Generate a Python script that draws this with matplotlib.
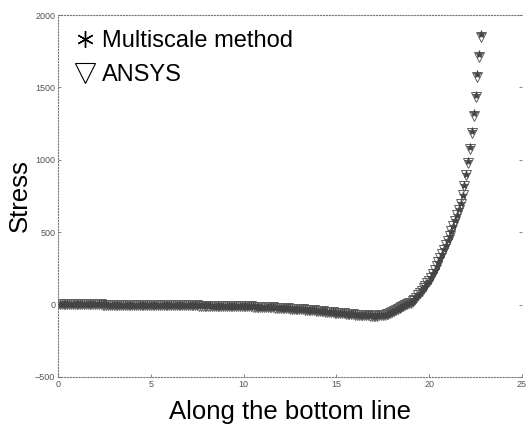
import numpy as np
import matplotlib
matplotlib.use("Agg")
import matplotlib.pyplot as plt
from matplotlib.lines import Line2D

plt.rcParams['font.family'] = ['Liberation Sans', 'DejaVu Sans']

# position along the bottom line (step 0.1 from 0 to 22.8)
position = np.round(np.arange(0, 229) * 0.1, 1)

multiscale_stress = [
    5, 5, 5, 4, 4, 4, 4, 4, 3, 3,
    3, 3, 3, 3, 2, 2, 2, 2, 2, 2,
    2, 2, 1, 1, 1, 1, 1, 0, 0, 0,
    0, 0, 0, -1, -1, -1, -1, -1, -2, -2,
    -2, -2, -2, -2, -2, -3, -3, -3, -3, -3,
    -3, -3, -3, -4, -4, -4, -4, -4, -4, -5,
    -5, -5, -5, -5, -5, -5, -5, -5, -5, -5,
    -5, -5, -5, -5, -6, -6, -6, -6, -6, -6,
    -6, -6, -6, -7, -7, -7, -7, -7, -8, -8,
    -8, -8, -8, -9, -9, -9, -9, -10, -10, -10,
    -10, -11, -11, -12, -12, -13, -13, -14, -14, -15,
    -15, -16, -16, -17, -18, -18, -19, -20, -20, -21,
    -22, -23, -23, -24, -25, -26, -27, -27, -28, -29,
    -30, -31, -32, -33, -34, -35, -36, -38, -39, -40,
    -42, -43, -44, -46, -47, -48, -50, -51, -52, -54,
    -55, -56, -58, -59, -60, -62, -63, -64, -65, -67,
    -68, -69, -70, -71, -72, -73, -74, -74, -75, -75,
    -76, -76, -75, -74, -73, -71, -69, -66, -62, -57,
    -50, -44, -38, -31, -23, -15, -8, -1, 5, 10,
    12, 24, 37, 51, 66, 82, 98, 114, 131, 148,
    165, 190, 215, 241, 267, 294, 322, 351, 381, 412,
    444, 477, 511, 546, 583, 622, 660, 700, 760, 825,
    900, 990, 1090, 1200, 1320, 1450, 1590, 1730, 1870,
]

ansys_stress = [
    6, 6, 5, 5, 5, 4, 4, 4, 4, 3,
    3, 3, 3, 2, 2, 2, 2, 2, 2, 1,
    1, 1, 1, 1, 0, 0, 0, 0, 0, -1,
    -1, -1, -1, -1, -1, -2, -2, -2, -2, -2,
    -2, -3, -3, -3, -3, -3, -3, -3, -4, -4,
    -4, -4, -4, -4, -4, -5, -5, -5, -5, -5,
    -5, -5, -5, -5, -5, -5, -5, -6, -6, -6,
    -6, -6, -6, -6, -6, -6, -7, -7, -7, -7,
    -7, -7, -7, -8, -8, -8, -8, -8, -9, -9,
    -9, -9, -9, -10, -10, -10, -10, -11, -11, -11,
    -11, -12, -12, -13, -13, -14, -14, -15, -15, -16,
    -16, -17, -17, -18, -19, -19, -20, -21, -21, -22,
    -23, -24, -24, -25, -26, -27, -28, -28, -29, -30,
    -31, -32, -33, -34, -35, -36, -37, -39, -40, -41,
    -43, -44, -45, -47, -48, -49, -51, -52, -53, -55,
    -56, -57, -59, -60, -61, -63, -64, -65, -66, -68,
    -69, -70, -71, -72, -73, -74, -75, -75, -76, -76,
    -77, -77, -76, -75, -74, -72, -70, -67, -63, -58,
    -52, -46, -40, -33, -25, -17, -10, -3, 3, 8,
    10, 22, 35, 49, 64, 80, 96, 112, 129, 146,
    163, 187, 212, 238, 264, 291, 319, 348, 378, 409,
    441, 474, 508, 543, 580, 618, 656, 696, 754, 818,
    892, 980, 1078, 1186, 1305, 1433, 1570, 1710, 1845,
]

y_ticks = [-500, 0, 500, 1000, 1500, 2000]
x_ticks = [0, 5, 10, 15, 20, 25]

fig = plt.figure(figsize=(5.29, 4.30), dpi=100)
ax = fig.add_axes([0.1096, 0.1233, 0.8772, 0.8417])

ax.plot(position, ansys_stress, linestyle='none', marker='v', markersize=6.5,
        markerfacecolor='none', markeredgecolor='#606060', markeredgewidth=0.7)
ax.plot(position, multiscale_stress, linestyle='none', marker='*', markersize=6,
        color='#444444', markeredgewidth=0.5)

ax.set_xlim(0, 25)
ax.set_ylim(-500, 2000)
ax.set_xticks(x_ticks)
ax.set_yticks(y_ticks)
ax.tick_params(direction='in', length=2, width=0.5, labelsize=6.5, colors='#555555',
               right=True, top=False, pad=2)

for side in ['left', 'bottom', 'top']:
    ax.spines[side].set_linestyle(':')
    ax.spines[side].set_linewidth(0.8)
    ax.spines[side].set_color('#777777')
ax.spines['right'].set_visible(False)

ax.set_xlabel('Along the bottom line', fontsize=18.5, labelpad=8)
ax.set_ylabel('Stress', fontsize=18.5, labelpad=2)

handles = [
    Line2D([], [], linestyle='none', marker=(6, 2, 0), markersize=12,
           color='black', markeredgewidth=1.0),
    Line2D([], [], linestyle='none', marker='v', markersize=15,
           markerfacecolor='none', markeredgecolor='black', markeredgewidth=0.8),
]
ax.legend(handles, ['Multiscale method', 'ANSYS'], loc='upper left',
          frameon=False, fontsize=17, handletextpad=0.2, labelspacing=0.5,
          borderaxespad=0.25, handlelength=1.0)

fig.savefig('out.png', dpi=100)
